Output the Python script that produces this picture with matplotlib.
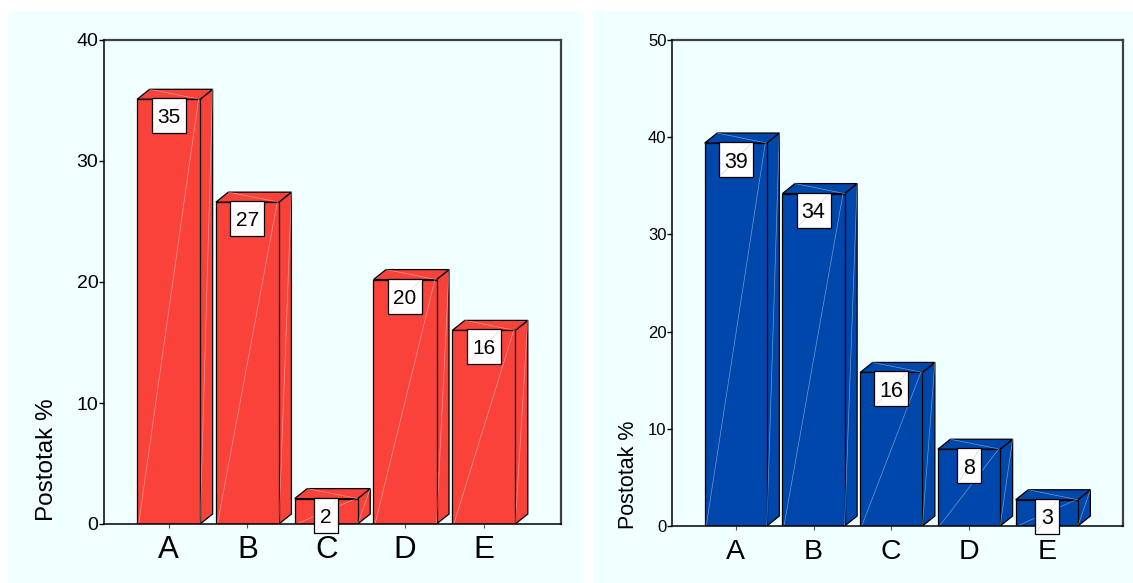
import matplotlib
matplotlib.use("Agg")
import matplotlib.pyplot as plt
from matplotlib.patches import Polygon, Rectangle

plt.rcParams['font.family'] = ['Liberation Sans', 'DejaVu Sans']

# ---- data ----
categories = ['A', 'B', 'C', 'D', 'E']
left_heights = [35.1, 26.6, 2.1, 20.2, 16.0]
left_labels = [35, 27, 2, 20, 16]
right_heights = [39.4, 34.2, 15.8, 7.9, 2.7]
right_labels = [39, 34, 16, 8, 3]
left_yticks = [0, 10, 20, 30, 40]
right_yticks = [0, 10, 20, 30, 40, 50]
ylabel_text = 'Postotak %'

W, H = 1133, 583
BG = '#F0FFFF'
RED = '#F9423A'
BLUE = '#0047AB'

fig = plt.figure(figsize=(W / 100, H / 100), dpi=100)
fig.patch.set_facecolor('white')


def px_rect(x0, y0, x1, y1):
    # pixel coords (top-left origin) to figure fraction rect
    return [x0 / W, 1 - y1 / H, (x1 - x0) / W, (y1 - y0) / H]


# panel backgrounds
for (x0, x1) in [(8, 584), (593, 1133)]:
    r = px_rect(x0, 11, x1, 583)
    fig.patches.append(Rectangle((r[0], r[1]), r[2], r[3], transform=fig.transFigure,
                                 facecolor=BG, edgecolor='none', zorder=-10))


def draw_panel(rect_px, heights, labels, ymax, yticks, color, ytick_fs, xtick_fs,
               val_fs, xpad, ylabel_pos, ylabel_fs):
    ax = fig.add_axes(px_rect(*rect_px))
    ax.set_zorder(1)
    ax.set_facecolor(BG)
    xlo, xhi = -0.82, 4.98
    ax.set_xlim(xlo, xhi)
    ax.set_ylim(0, ymax)
    ax_w = rect_px[2] - rect_px[0]
    ax_h = rect_px[3] - rect_px[1]
    xpp = (xhi - xlo) / ax_w      # data units per pixel (x)
    ypp = ymax / ax_h             # data units per pixel (y)
    dx = 12.5 * xpp
    dy = 10.0 * ypp
    width = 0.80
    for i, (h, lab) in enumerate(zip(heights, labels)):
        x0 = i - width / 2
        x1 = i + width / 2
        side = Polygon([(x1, 0), (x1 + dx, dy), (x1 + dx, h + dy), (x1, h)],
                       closed=True, facecolor=color, edgecolor='black', lw=0.9, zorder=3)
        top = Polygon([(x0, h), (x0 + dx, h + dy), (x1 + dx, h + dy), (x1, h)],
                      closed=True, facecolor=color, edgecolor='black', lw=0.9, zorder=3)
        front = Rectangle((x0, 0), width, h, facecolor=color, edgecolor='black',
                          lw=0.9, zorder=4)
        ax.add_patch(side)
        ax.add_patch(top)
        ax.add_patch(front)
        # faint highlight lines
        ax.plot([x0 + 0.02, x1 - 0.02], [0, h], color='white', lw=0.5, alpha=0.45, zorder=5)
        ax.plot([x1, x1 + dx], [0, h + dy], color='white', lw=0.5, alpha=0.45, zorder=5)
        ax.plot([x0 + dx, x1], [h + dy, h], color='white', lw=0.5, alpha=0.45, zorder=5)
        # value label box
        txt = str(lab)
        bw = (len(txt) * 10.5 + 13) * xpp
        bh = 35 * ypp
        btop = h + 1.0 * ypp
        box = Rectangle((i - bw / 2, btop - bh), bw, bh, facecolor='white',
                        edgecolor='black', lw=0.9, zorder=9, clip_on=False)
        ax.add_patch(box)
        ax.plot([i - bw / 2 + 2 * xpp, i + bw / 2 - 2 * xpp], [btop - bh + 2 * ypp, btop - 2 * ypp],
                color=color, lw=0.4, alpha=0.25, zorder=9.5, clip_on=False)
        ax.text(i, btop - bh / 2, txt, ha='center', va='center_baseline',
                fontsize=val_fs, color='black', zorder=10, clip_on=False)
    ax.set_xticks(range(len(categories)))
    ax.set_xticklabels(categories, fontsize=xtick_fs)
    ax.set_yticks(yticks)
    ax.set_yticklabels([str(t) for t in yticks], fontsize=ytick_fs)
    ax.tick_params(axis='y', direction='out', length=3.5, width=1.0, pad=0.5, colors='black')
    ax.tick_params(axis='x', direction='out', length=3, width=0.8, pad=xpad,
                   color='#555555', labelcolor='black')
    for s in ['top', 'right']:
        ax.spines[s].set_color('#404040')
        ax.spines[s].set_linewidth(1.6)
    for s in ['left', 'bottom']:
        ax.spines[s].set_color('black')
        ax.spines[s].set_linewidth(1.1)
        ax.spines[s].set_zorder(6)
    fig.text(ylabel_pos[0] / W, 1 - ylabel_pos[1] / H, ylabel_text, rotation=90,
             ha='center', va='center', fontsize=ylabel_fs, color='black', zorder=5)
    return ax


draw_panel((104, 40, 561, 524), left_heights, left_labels, 40, left_yticks, RED,
           ytick_fs=14, xtick_fs=22.5, val_fs=15, xpad=5, ylabel_pos=(47, 460), ylabel_fs=17.5)
draw_panel((672, 40, 1123, 526), right_heights, right_labels, 50, right_yticks, BLUE,
           ytick_fs=12, xtick_fs=20.5, val_fs=15.5, xpad=6.5, ylabel_pos=(628, 475), ylabel_fs=15.5)

fig.savefig('out.png', dpi=100, facecolor='white')
